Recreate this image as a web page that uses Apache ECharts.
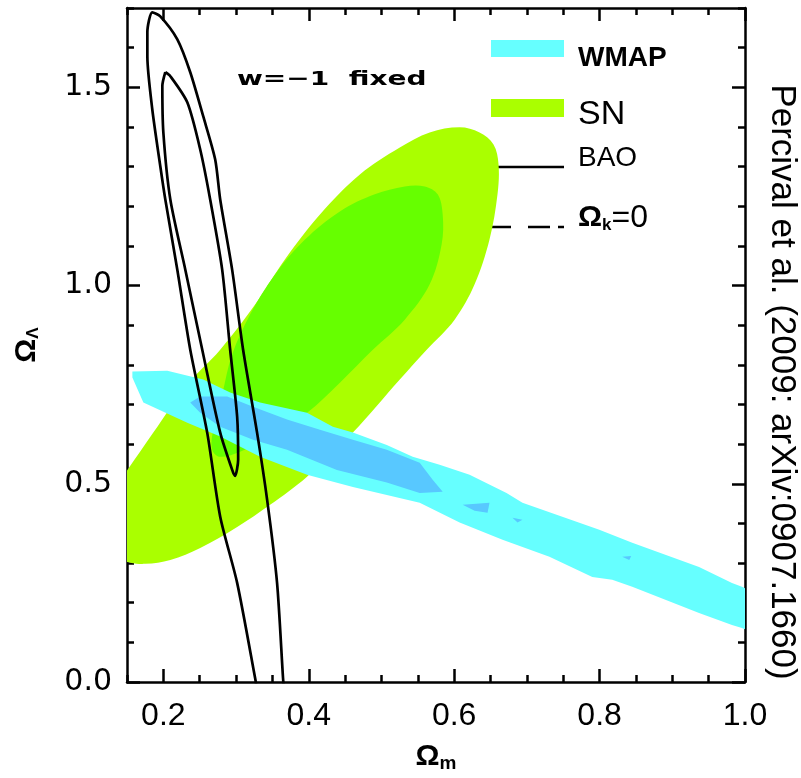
<!DOCTYPE html>
<html><head><meta charset="utf-8">
<script src="https://cdn.jsdelivr.net/npm/echarts@6/dist/echarts.min.js"></script>
<style>html,body{margin:0;padding:0;background:#fff}#c{width:801px;height:778px}</style>
</head><body><div id="c"></div>
<script>
// axis ticks
const xMajorTicks = [0.2, 0.4, 0.6, 0.8, 1.0];
const xMinorTicks = [0.15,0.2,0.25,0.3,0.35,0.4,0.45,0.5,0.55,0.6,0.65,0.7,0.75,0.8,0.85,0.9,0.95,1.0];
const yMajorTicks = [0.0, 0.5, 1.0, 1.5];
const yMinorTicks = [0,0.1,0.2,0.3,0.4,0.5,0.6,0.7,0.8,0.9,1.0,1.1,1.2,1.3,1.4,1.5,1.6,1.7];

// SN contours (Omega_m, Omega_Lambda)
const snOuter = [[0.6075,1.399],[0.6349,1.386],[0.6541,1.356],[0.6610,1.306],[0.6596,1.230],[0.6486,1.116],[0.6281,1.003],[0.6006,0.914],[0.5622,0.838],[0.5252,0.763],[0.4607,0.629],[0.3976,0.518],[0.3468,0.447],[0.3015,0.391],[0.2507,0.338],[0.2096,0.308],[0.1752,0.298],[0.1546,0.301],[0.1341,0.313],[0.1204,0.359],[0.1204,0.434],[0.1341,0.497],[0.1505,0.535],[0.1862,0.629],[0.2329,0.750],[0.2782,0.838],[0.3262,0.952],[0.3674,1.066],[0.4154,1.179],[0.4703,1.280],[0.5252,1.348],[0.5663,1.386]];
const snInner = [[0.5595,1.250],[0.5773,1.230],[0.5842,1.179],[0.5828,1.104],[0.5663,1.003],[0.5320,0.914],[0.4881,0.838],[0.4428,0.755],[0.3976,0.679],[0.3468,0.619],[0.3056,0.581],[0.2782,0.568],[0.2672,0.586],[0.2686,0.636],[0.2809,0.725],[0.2946,0.826],[0.3193,0.927],[0.3536,1.028],[0.3948,1.116],[0.4428,1.187],[0.4908,1.230],[0.5320,1.250]];

// WMAP contours
const wmapOuter = [[0.1574,0.783],[0.2054,0.785],[0.2548,0.763],[0.2919,0.730],[0.3330,0.705],[0.3976,0.679],[0.4332,0.644],[0.4607,0.629],[0.5073,0.598],[0.5430,0.568],[0.5800,0.548],[0.6212,0.523],[0.6720,0.477],[0.6939,0.452],[0.7996,0.384],[0.8449,0.351],[0.9368,0.290],[0.9821,0.250],[0.9958,0.240],[1.019,0.222],[1.019,0.119],[0.9958,0.136],[0.9821,0.144],[0.9368,0.174],[0.8449,0.240],[0.8174,0.258],[0.7900,0.265],[0.7310,0.316],[0.6665,0.359],[0.6075,0.402],[0.5526,0.452],[0.4607,0.492],[0.3976,0.523],[0.3330,0.568],[0.2782,0.619],[0.2329,0.654],[0.1725,0.705],[0.1574,0.768]];
const wmapInner = [[0.2370,0.705],[0.2507,0.720],[0.2878,0.720],[0.3234,0.694],[0.3701,0.662],[0.4154,0.636],[0.4607,0.611],[0.5073,0.586],[0.5526,0.553],[0.5704,0.510],[0.5842,0.480],[0.5526,0.477],[0.5073,0.503],[0.4387,0.535],[0.3701,0.586],[0.3234,0.611],[0.2782,0.644],[0.2507,0.679]];
const wmapIsland1 = [[0.6116,0.447],[0.6486,0.452],[0.6459,0.427],[0.6281,0.432]];
const wmapIsland2 = [[0.6802,0.414],[0.6939,0.409],[0.6871,0.402]];
const wmapIsland3 = [[0.8311,0.316],[0.8435,0.318],[0.8408,0.308]];

// BAO contours
const baoOuter = [[0.3289,-0.020],[0.3262,0.010],[0.3015,0.250],[0.2782,0.417],[0.2603,0.629],[0.2370,0.838],[0.2192,1.040],[0.2027,1.217],[0.1958,1.301],[0.1848,1.444],[0.1780,1.578],[0.1780,1.639],[0.1848,1.689],[0.1958,1.679],[0.2192,1.621],[0.2370,1.538],[0.2548,1.427],[0.2713,1.318],[0.2782,1.217],[0.2946,1.040],[0.3097,0.838],[0.3289,0.629],[0.3427,0.460],[0.3564,0.250],[0.3646,0.010],[0.3660,-0.020]];
const baoInner = [[0.2027,1.538],[0.2096,1.528],[0.2329,1.462],[0.2507,1.343],[0.2644,1.217],[0.2809,1.040],[0.2919,0.838],[0.3015,0.669],[0.3029,0.561],[0.2987,0.520],[0.2960,0.528],[0.2782,0.629],[0.2535,0.838],[0.2302,1.040],[0.2096,1.217],[0.2000,1.386],[0.1986,1.503],[0.2027,1.538]];

const chart = echarts.init(document.getElementById('c'), null, {renderer:'canvas'});

function polySeries(name, polys, color, smooth) {
  return {
    type:'custom', name: name, xAxisIndex:0, yAxisIndex:0, clip:true, silent:true,
    data:[[0.5,0.5]],
    renderItem: function(params, api) {
      const cs = params.coordSys;
      return {
        type:'group',
        clipPath:{type:'rect', shape:{x:cs.x, y:cs.y, width:cs.width, height:cs.height}},
        children: polys.map(function(pts){
          return {type:'polygon', shape:{points: pts.map(function(p){return api.coord(p);}), smooth: smooth},
                  style:{fill: color, stroke: null}};
        })
      };
    }
  };
}

const axisBlack = {color:'#000', width:2.5};
const fmt1 = function(v){ return Number(v).toFixed(1); };
const gridRect = {left:127, top:8, width:618, height:674};

function xAx(grid, pos, ticks, len, line, labels) {
  return {type:'value', gridIndex:grid, position:pos, min:0.15, max:1.0,
    axisLine:{show:line, onZero:false, lineStyle:axisBlack},
    axisTick:{show:true, inside:true, length:len, customValues:ticks, lineStyle:axisBlack},
    axisLabel:{show:!!labels, customValues:xMajorTicks, formatter:fmt1, color:'#000', fontSize:32, fontFamily:'Liberation Sans', margin:18},
    splitLine:{show:false}};
}
function yAx(grid, pos, ticks, len, line, labels) {
  return {type:'value', gridIndex:grid, position:pos, min:0, max:1.7,
    axisLine:{show:line, onZero:false, lineStyle:axisBlack},
    axisTick:{show:true, inside:true, length:len, customValues:ticks, lineStyle:axisBlack},
    axisLabel:{show:!!labels, customValues:yMajorTicks, formatter:fmt1, color:'#000', fontSize:30, fontFamily:'DejaVu Sans', margin:15},
    splitLine:{show:false}};
}

const xa0 = xAx(0,'bottom',xMajorTicks,13,true,true);
xa0.name = '{o|Ω}{s|m}';
xa0.nameLocation = 'middle';
xa0.nameGap = 58;
xa0.nameTextStyle = {rich:{o:{fontSize:30, fontWeight:'bold', fontFamily:'Liberation Sans', color:'#000'}, s:{fontSize:19, fontWeight:'bold', fontFamily:'Liberation Sans', color:'#000', padding:[14,0,0,0]}}};
const ya0 = yAx(0,'left',yMajorTicks,13,true,true);
ya0.name = '{o|Ω}{s|Λ}';
ya0.nameLocation = 'middle';
ya0.nameRotate = 90;
ya0.nameGap = 85;
ya0.nameTextStyle = {rich:{o:{fontSize:30, fontWeight:'bold', fontFamily:'Liberation Sans', color:'#000'}, s:{fontSize:17, fontWeight:'bold', fontFamily:'Liberation Sans', color:'#000', padding:[14,0,0,0]}}};

const option = {
  animation:false,
  backgroundColor:'#fff',
  grid:[Object.assign({}, gridRect), Object.assign({}, gridRect)],
  xAxis:[xa0, xAx(0,'top',xMajorTicks,13,true,false), xAx(1,'bottom',xMinorTicks,7,false,false), xAx(1,'top',xMinorTicks,7,false,false)],
  yAxis:[ya0, yAx(0,'right',yMajorTicks,13,true,false), yAx(1,'left',yMinorTicks,7,false,false), yAx(1,'right',yMinorTicks,7,false,false)],
  series:[
    polySeries('SN 2σ', [snOuter], '#AAFF00', 0.35),
    polySeries('SN 1σ', [snInner], '#66FF00', 0.35),
    polySeries('WMAP 2σ', [wmapOuter], '#66FFFF', 0),
    polySeries('WMAP 1σ', [wmapInner, wmapIsland1, wmapIsland2, wmapIsland3], '#58C8FF', 0),
    {type:'line', name:'BAO outer', xAxisIndex:0, yAxisIndex:0, data:baoOuter, showSymbol:false, smooth:0.25, clip:true, silent:true, lineStyle:{color:'#000', width:2.7}},
    {type:'line', name:'BAO inner', xAxisIndex:0, yAxisIndex:0, data:baoInner, showSymbol:false, smooth:0.25, clip:true, silent:true, lineStyle:{color:'#000', width:2.7}}
  ],
  graphic:[
    {type:'text', x:237, y:80, scaleX:1.4, style:{text:'w=−1  fixed', x:0, y:0, align:'left', verticalAlign:'middle', font:'bold 20px "DejaVu Sans"', fill:'#000'}},
    {type:'rect', shape:{x:491, y:40, width:73, height:17}, style:{fill:'#66FFFF'}},
    {type:'text', style:{text:'WMAP', x:578, y:58, align:'left', verticalAlign:'middle', font:'bold 28px "Liberation Sans"', fill:'#000'}},
    {type:'rect', shape:{x:491, y:99, width:73, height:18}, style:{fill:'#AAFF00'}},
    {type:'text', style:{text:'SN', x:578, y:115, align:'left', verticalAlign:'middle', font:'34px "Liberation Sans"', fill:'#000'}},
    {type:'line', shape:{x1:491, y1:167, x2:564, y2:167}, style:{stroke:'#000', lineWidth:2.5}},
    {type:'text', style:{text:'BAO', x:578, y:158, align:'left', verticalAlign:'middle', font:'28px "Liberation Sans"', fill:'#000'}},
    {type:'line', shape:{x1:491, y1:227, x2:564, y2:227}, style:{stroke:'#000', lineWidth:2.5, lineDash:[20,17,22,8]}},
    {type:'text', style:{text:'{o|Ω}{k|k}{e|=0}', x:578, y:218, align:'left', verticalAlign:'middle', fill:'#000',
      rich:{o:{fontSize:30, fontWeight:'bold', fontFamily:'Liberation Sans'}, k:{fontSize:17, fontWeight:'bold', fontFamily:'Liberation Sans', padding:[14,0,0,0]}, e:{fontSize:32, fontFamily:'Liberation Sans'}}}},
    {type:'text', x:782, y:382, rotation:-Math.PI/2, style:{text:'Percival et al. (2009: arXiv:0907.1660)', x:0, y:0, align:'center', verticalAlign:'middle', font:'35px "Liberation Sans"', fill:'#000'}}
  ]
};
chart.setOption(option);
</script>
</body></html>
